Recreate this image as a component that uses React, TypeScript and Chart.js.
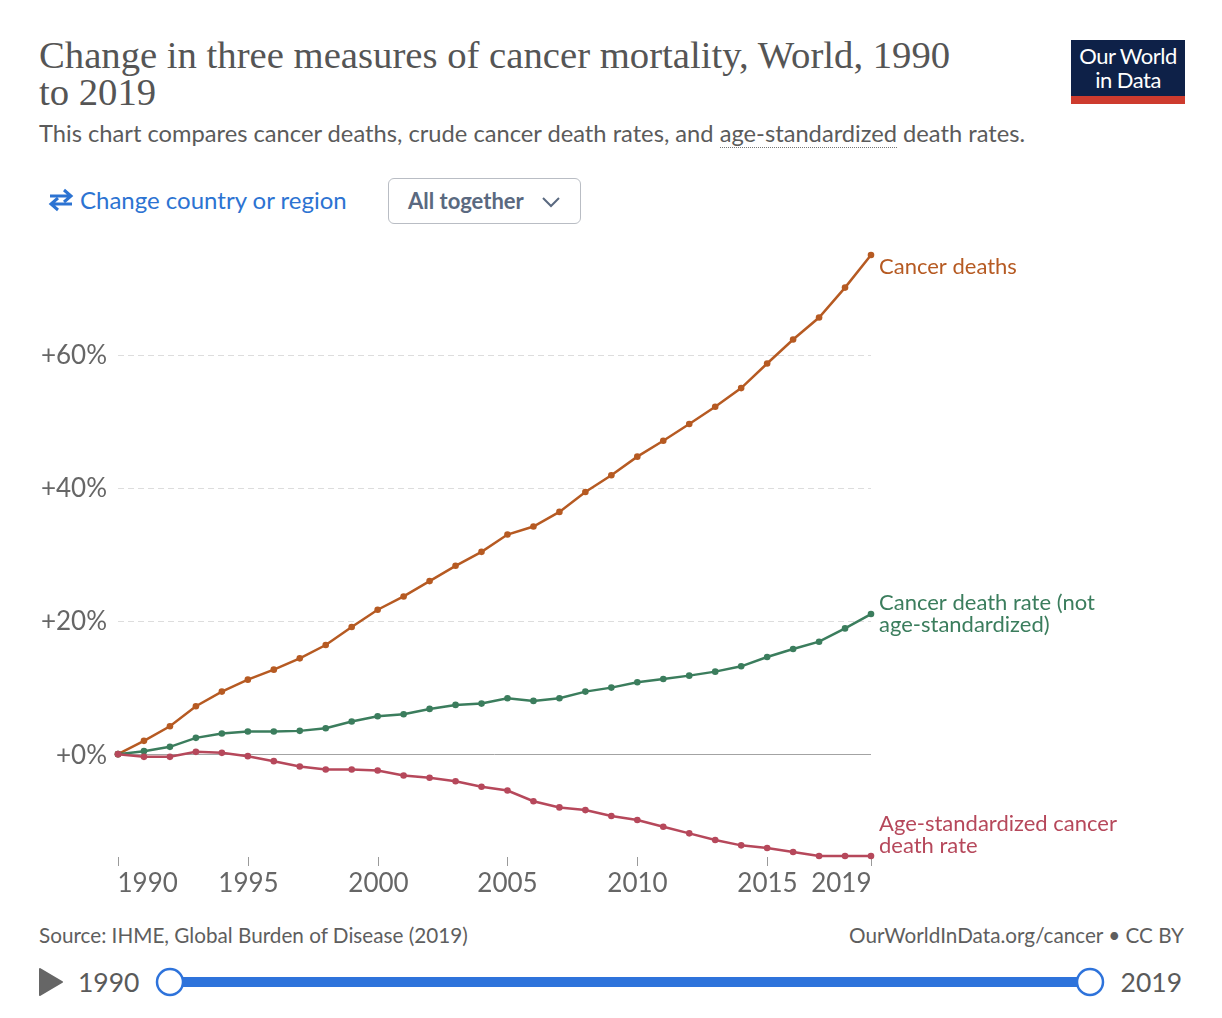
import React, { useEffect, useRef } from "react";
import { Chart, registerables } from "chart.js";

Chart.register(...registerables);

const years = [1990, 1991, 1992, 1993, 1994, 1995, 1996, 1997, 1998, 1999, 2000, 2001, 2002, 2003, 2004, 2005, 2006, 2007, 2008, 2009, 2010, 2011, 2012, 2013, 2014, 2015, 2016, 2017, 2018, 2019];
const cancerDeaths = [0, 2.0, 4.2, 7.2, 9.4, 11.2, 12.7, 14.4, 16.4, 19.1, 21.7, 23.7, 26.0, 28.3, 30.4, 33.0, 34.2, 36.4, 39.4, 41.9, 44.7, 47.1, 49.6, 52.2, 55.0, 58.7, 62.3, 65.6, 70.1, 75.0];
const crudeDeathRate = [0, 0.45, 1.1, 2.45, 3.1, 3.4, 3.4, 3.5, 3.9, 4.9, 5.7, 6.0, 6.8, 7.4, 7.6, 8.4, 8.0, 8.4, 9.4, 10.0, 10.8, 11.3, 11.8, 12.4, 13.2, 14.6, 15.8, 16.9, 18.9, 21.05];
const ageStdDeathRate = [0, -0.4, -0.4, 0.35, 0.2, -0.3, -1.05, -1.85, -2.3, -2.3, -2.45, -3.2, -3.55, -4.06, -4.9, -5.46, -7.07, -8.0, -8.4, -9.3, -9.9, -10.9, -11.9, -12.9, -13.7, -14.1, -14.7, -15.3, -15.3, -15.3];
const seriesNames = [["Cancer deaths"], ["Cancer death rate (not", "age-standardized)"], ["Age-standardized cancer", "death rate"]];
const yTicks = [0, 20, 40, 60];
const xTicks = [1990, 1995, 2000, 2005, 2010, 2015, 2019];
const yMin = -15.3;
const yMax = 75;

const COLORS = ["#b65a22", "#3b7d5d", "#b6485b"];
const LABEL_OFFSETS = [12, 0, -21];

const toPoints = (vals: number[]) => vals.map((v, i) => ({ x: years[i], y: v }));

export default function App() {
  const ref = useRef<HTMLCanvasElement | null>(null);

  useEffect(() => {
    if (!ref.current) return;
    const series = [cancerDeaths, crudeDeathRate, ageStdDeathRate];

    const decor = {
      id: "decor",
      beforeDatasetsDraw(chart: any) {
        const { ctx, chartArea, scales } = chart;
        const x = scales.x;
        const y = scales.y;
        ctx.save();
        yTicks.forEach((t) => {
          const py = Math.round(y.getPixelForValue(t)) + 0.5;
          ctx.beginPath();
          if (t === 0) {
            ctx.setLineDash([]);
            ctx.strokeStyle = "#a3a3a3";
          } else {
            ctx.setLineDash([6, 4]);
            ctx.strokeStyle = "#dddddd";
          }
          ctx.lineWidth = 1;
          ctx.moveTo(chartArea.left, py);
          ctx.lineTo(chartArea.right, py);
          ctx.stroke();
        });
        ctx.setLineDash([]);
        ctx.font = "26px Lato";
        ctx.fillStyle = "#666666";
        ctx.textAlign = "right";
        ctx.textBaseline = "middle";
        yTicks.forEach((t) => {
          ctx.fillText("+" + t + "%", chartArea.left - 11, y.getPixelForValue(t) + 1);
        });
        ctx.strokeStyle = "#9a9a9a";
        ctx.lineWidth = 1;
        xTicks.forEach((t, i) => {
          const px = Math.round(x.getPixelForValue(t)) + 0.5;
          ctx.beginPath();
          ctx.moveTo(px, chartArea.bottom + 1);
          ctx.lineTo(px, chartArea.bottom + 10);
          ctx.stroke();
          ctx.textAlign = i === 0 ? "left" : i === xTicks.length - 1 ? "right" : "center";
          ctx.fillText(String(t), i === 0 ? px - 1 : px, chartArea.bottom + 28);
        });
        ctx.restore();
      },
      afterDatasetsDraw(chart: any) {
        const { ctx, chartArea, scales } = chart;
        const y = scales.y;
        ctx.save();
        ctx.font = "22px Lato";
        ctx.textAlign = "left";
        ctx.textBaseline = "middle";
        series.forEach((s, i) => {
          const lines = seriesNames[i];
          const cy = y.getPixelForValue(s[s.length - 1]) + LABEL_OFFSETS[i];
          ctx.fillStyle = COLORS[i];
          const lh = 22;
          const start = cy - ((lines.length - 1) * lh) / 2;
          lines.forEach((l, k) => ctx.fillText(l, chartArea.right + 8, start + k * lh));
        });
        ctx.restore();
      },
    };

    const chart = new Chart(ref.current, {
      type: "line",
      data: {
        datasets: series.map((s, i) => ({
          label: seriesNames[i].join(" "),
          data: toPoints(s),
          borderColor: COLORS[i],
          backgroundColor: COLORS[i],
          borderWidth: 2.5,
          pointRadius: 3.3,
          pointBorderWidth: 0,
          pointBackgroundColor: COLORS[i],
          tension: 0,
          clip: false as any,
          order: 3 - i,
        })),
      },
      options: {
        animation: false,
        responsive: false,
        devicePixelRatio: 1,
        events: [],
        layout: { padding: { left: 118, right: 351, top: 25, bottom: 54 } },
        plugins: { legend: { display: false }, tooltip: { enabled: false }, title: { display: false } },
        scales: {
          x: { type: "linear", min: 1990, max: 2019, display: false },
          y: { type: "linear", min: yMin, max: yMax, display: false },
        },
      },
      plugins: [decor],
    });
    return () => chart.destroy();
  }, []);

  const lato = "Lato, 'Noto Sans', sans-serif";

  return (
    <div style={{ position: "absolute", left: 0, top: 0, width: 1222, height: 1018, background: "#fff", overflow: "hidden", fontFamily: lato }}>
      <div style={{ position: "absolute", left: 39, top: 37, fontFamily: "'Liberation Serif', serif", fontSize: 38.7, lineHeight: "37px", color: "#555555", whiteSpace: "nowrap" }}>
        Change in three measures of cancer mortality, World, 1990
        <br />
        to 2019
      </div>
      <div style={{ position: "absolute", left: 39, top: 119, fontSize: 23.7, lineHeight: "28px", color: "#5b5b5b", whiteSpace: "nowrap" }}>
        This chart compares cancer deaths, crude cancer death rates, and{" "}
        <span style={{ borderBottom: "1.5px dotted #777" }}>age-standardized</span> death rates.
      </div>
      <div style={{ position: "absolute", left: 1071, top: 40, width: 114, height: 64, background: "#0e2148" }}>
        <div style={{ position: "absolute", left: 0, top: 4, width: 114, textAlign: "center", color: "#fff", fontSize: 22, lineHeight: "24px", letterSpacing: -0.5 }}>
          Our World
          <br />
          in Data
        </div>
        <div style={{ position: "absolute", left: 0, bottom: 0, width: 114, height: 8, background: "#cd3b2e" }} />
      </div>
      <div style={{ position: "absolute", left: 48, top: 186, display: "flex", alignItems: "center", color: "#2c73d2", fontSize: 24, lineHeight: "28px", whiteSpace: "nowrap" }}>
        <svg width="26" height="24" viewBox="0 0 26 24" style={{ marginRight: 6 }}>
          <path d="M2 8 H22 M16 2 L23 8 L16 14" fill="none" stroke="#2c73d2" strokeWidth="3" />
          <path d="M24 16 H4 M10 10 L3 16 L10 22" fill="none" stroke="#2c73d2" strokeWidth="3" />
        </svg>
        Change country or region
      </div>
      <div style={{ position: "absolute", left: 388, top: 178, width: 191, height: 44, border: "1.5px solid #b9bdc4", borderRadius: 6 }}>
        <div style={{ position: "absolute", left: 19, top: 8, fontSize: 22, fontWeight: 700, color: "#5a6980", lineHeight: "28px" }}>All together</div>
        <svg width="20" height="12" viewBox="0 0 20 12" style={{ position: "absolute", left: 152, top: 17 }}>
          <path d="M2 2 L10 10 L18 2" fill="none" stroke="#5a6980" strokeWidth="2" />
        </svg>
      </div>
      <canvas ref={ref} width={1222} height={680} style={{ position: "absolute", left: 0, top: 230, width: 1222, height: 680 }} />
      <div style={{ position: "absolute", left: 39, top: 922, fontSize: 20.7, lineHeight: "26px", color: "#5e5e5e", whiteSpace: "nowrap" }}>
        Source: IHME, Global Burden of Disease (2019)
      </div>
      <div style={{ position: "absolute", right: 38, top: 922, fontSize: 20.7, lineHeight: "26px", color: "#5e5e5e", whiteSpace: "nowrap" }}>
        OurWorldInData.org/cancer • CC BY
      </div>
      <svg width="1222" height="60" style={{ position: "absolute", left: 0, top: 952 }}>
        <path d="M40 17 L62 30 L40 43 Z" fill="#666" stroke="#666" strokeWidth="2" strokeLinejoin="round" />
        <rect x="170" y="25" width="920" height="10" fill="#2e73db" />
        <circle cx="170" cy="30" r="13" fill="#fff" stroke="#2e73db" strokeWidth="2.5" />
        <circle cx="1090" cy="30" r="13" fill="#fff" stroke="#2e73db" strokeWidth="2.5" />
      </svg>
      <div style={{ position: "absolute", left: 78, top: 966, fontSize: 26.5, lineHeight: "32px", color: "#5a5a5a" }}>1990</div>
      <div style={{ position: "absolute", right: 40, top: 966, fontSize: 26.5, lineHeight: "32px", color: "#5a5a5a" }}>2019</div>
    </div>
  );
}
